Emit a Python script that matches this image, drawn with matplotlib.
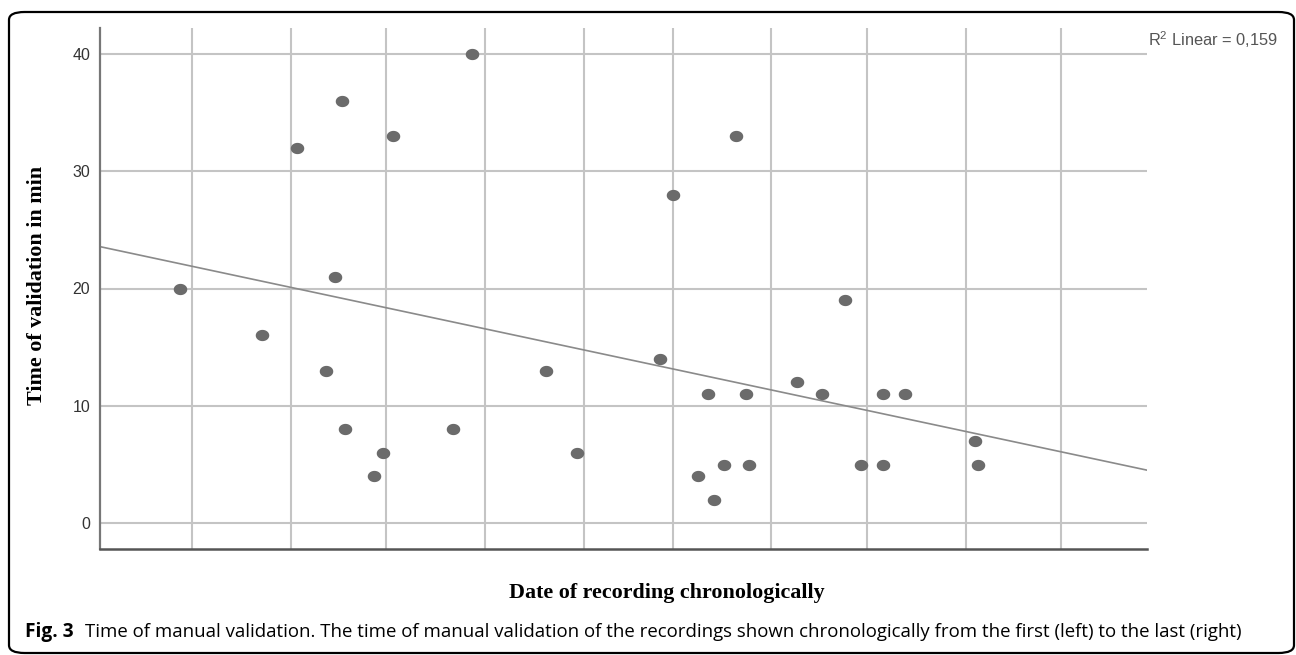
import matplotlib.pyplot as plt
import matplotlib.dates as mdates
import numpy as np
from matplotlib.patches import FancyBboxPatch
from matplotlib.path import Path

# recordings (date, minutes of manual validation)
rec_dates = [
    "2018-09-27", "2018-10-23", "2018-11-03", "2018-11-12", "2018-11-15",
    "2018-11-17", "2018-11-18", "2018-11-27", "2018-11-30", "2018-12-03",
    "2018-12-22", "2018-12-28", "2019-01-20", "2019-01-30", "2019-02-25",
    "2019-03-01", "2019-03-09", "2019-03-12", "2019-03-14", "2019-03-17",
    "2019-03-21", "2019-03-24", "2019-03-25", "2019-04-09", "2019-04-17",
    "2019-04-24", "2019-04-29", "2019-05-06", "2019-05-06", "2019-05-13",
    "2019-06-04", "2019-06-05",
]
minutes = [
    20, 16, 32, 13, 21,
    36, 8, 4, 6, 33,
    8, 40, 13, 6, 14,
    28, 4, 11, 2, 5,
    33, 11, 5, 12, 11,
    19, 5, 11, 5, 11,
    7, 5,
]
y_ticks = [0, 10, 20, 30, 40]
x_start, x_end = "2018-09-02", "2019-07-28"

x = mdates.datestr2num(rec_dates)
y = np.array(minutes, dtype=float)

# linear fit
slope, icpt = np.polyfit(x, y, 1)
r2 = np.corrcoef(x, y)[0, 1] ** 2

fig = plt.figure(figsize=(12.96, 6.55), dpi=100)
ax = fig.add_axes([100 / 1296, 1 - 549 / 655, 1047 / 1296, 521 / 655])

x0, x1 = mdates.datestr2num([x_start, x_end])
ax.set_xlim(x0, x1)
ax.set_ylim(-2.2, 42.2)

# monthly grid
ax.xaxis.set_major_locator(mdates.MonthLocator())
ax.set_yticks(y_ticks)
ax.grid(True, color='#c4c4c4', linewidth=1.5)
ax.set_axisbelow(True)
ax.tick_params(axis='x', length=0, labelbottom=False)
ax.tick_params(axis='y', length=0, pad=7, labelsize=11.5, labelcolor='#333333')
for lab in ax.get_yticklabels():
    lab.set_family('Liberation Sans')

for s in ('top', 'right'):
    ax.spines[s].set_visible(False)
ax.spines['left'].set_color('#777777')
ax.spines['left'].set_linewidth(1.6)
ax.spines['bottom'].set_color('#555555')
ax.spines['bottom'].set_linewidth(1.8)

# fit line
xl = np.array([x0, x1])
ax.plot(xl, slope * xl + icpt, color='#8a8a8a', linewidth=1.2, zorder=2)

# slightly wide dots
t = np.linspace(0, 2 * np.pi, 40)
ell = Path(np.column_stack([1.2 * np.cos(t), np.sin(t)]), closed=True)
ax.scatter(x, y, marker=ell, s=95, color='#6b6b6b', linewidths=0, zorder=3)

ax.set_ylabel('Time of validation in min', family='Liberation Serif',
              fontweight='bold', fontsize=15.8, va='center')
ax.yaxis.set_label_coords(-63 / 1047, (549 - 285) / 521)
ax.set_xlabel('Date of recording chronologically', family='Liberation Serif',
              fontweight='bold', fontsize=15.8, va='center')
ax.xaxis.set_label_coords((667 - 100) / 1047, (549 - 593) / 521)

fig.text(1148 / 1296, 1 - 40 / 655,
         r'$\mathregular{R^2}$ Linear = %s' % ('%.3f' % r2).replace('.', ','),
         family='Liberation Sans', fontsize=11.8, color='#555555', va='center')

# caption and frame
fig.text(25 / 1296, 1 - 632 / 655, 'Fig. 3', family='Open Sans', fontweight='bold',
         fontsize=13.8, va='center')
fig.text(85 / 1296, 1 - 632 / 655,
         'Time of manual validation. The time of manual validation of the recordings '
         'shown chronologically from the first (left) to the last (right)',
         family='Open Sans', fontsize=13.4, va='center')

frame = FancyBboxPatch((9 / 1296, 2 / 655), 1285 / 1296, 641 / 655,
                       boxstyle='round,pad=0,rounding_size=0.012',
                       transform=fig.transFigure, fill=False,
                       edgecolor='black', linewidth=1.6)
fig.patches.append(frame)

fig.savefig('out.png', dpi=100)
